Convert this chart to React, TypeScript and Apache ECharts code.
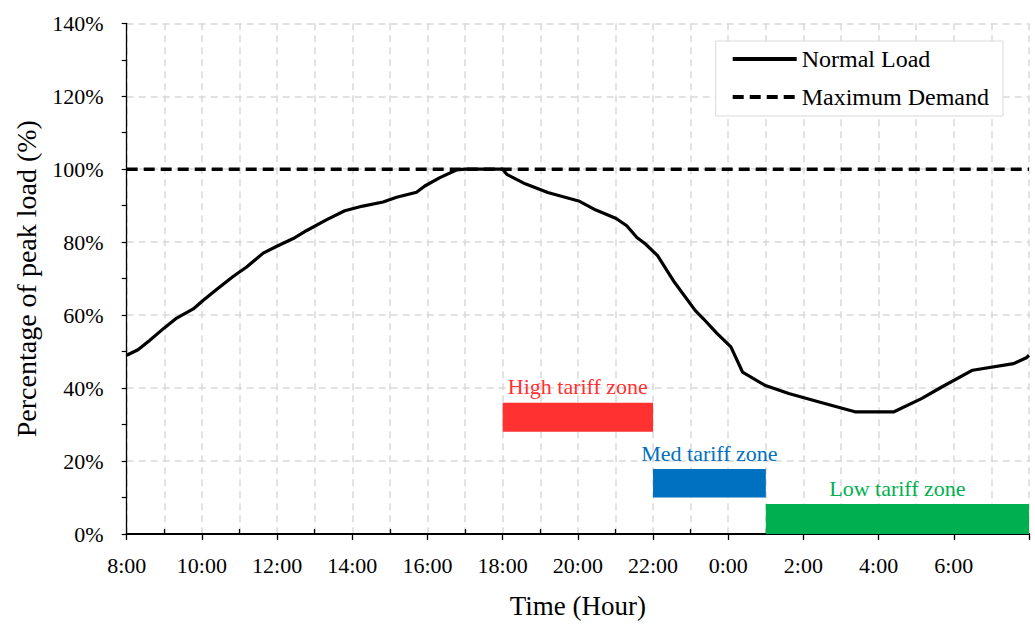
import React, { useEffect, useRef } from "react";
import * as echarts from "echarts";

// Hours elapsed since 8:00 (x axis runs 8:00 -> 8:00 next day)
const hoursFrom8 = [0, 0.3, 0.6, 1.0, 1.33, 1.77, 2.03, 2.39, 2.83, 3.19, 3.63, 3.98, 4.43, 4.79, 5.31, 5.8, 6.28, 6.82, 7.18, 7.71, 7.93, 8.33, 8.77, 9.0, 10.0, 10.11, 10.6, 11.2, 12.02, 12.48, 13.02, 13.3, 13.57, 13.8, 14.12, 14.57, 15.12, 15.34, 15.7, 16.07, 16.38, 16.97, 17.61, 18.42, 19.37, 20.41, 21.14, 21.68, 22.5, 23.59, 23.93, 24];
const normalLoad = [49, 50.5, 53, 56.5, 59.2, 61.7, 64, 67, 70.6, 73.2, 77, 78.8, 81, 83.2, 86.1, 88.6, 89.9, 91, 92.3, 93.7, 95.4, 97.7, 99.8, 100, 100, 98.6, 96, 93.6, 91.3, 88.8, 86.5, 84.5, 81.3, 79.5, 76.3, 69, 61.3, 59, 55, 51.3, 44.4, 40.8, 38.5, 36.2, 33.5, 33.5, 37.1, 40.3, 44.9, 46.7, 48.3, 49];

const maxDemandHours = [0, 24];
const maxDemand = [100, 100];

const zoneNames = ["High tariff zone", "Med tariff zone", "Low tariff zone"];
const zoneStart = [10, 14, 17];
const zoneEnd = [14, 17, 24];
const zoneLow = [28, 10, 0];
const zoneHigh = [36, 17.8, 8.2];
const zoneColors = ["#FF3131", "#0070C0", "#00B050"];

const startHour = 8;
const FONT = "'Liberation Serif', 'Times New Roman', serif";

export default function App() {
  const ref = useRef<HTMLDivElement>(null);

  useEffect(() => {
    if (!ref.current) return;
    const chart = echarts.init(ref.current, undefined, { renderer: "svg" });

    const loadData = hoursFrom8.map((h, i) => [h, normalLoad[i]]);
    const mdData = maxDemandHours.map((h, i) => [h, maxDemand[i]]);
    const zoneData = zoneNames.map((n, i) => [zoneStart[i], zoneEnd[i], zoneLow[i], zoneHigh[i], i]);

    const grid = "#D9D9D9";

    chart.setOption({
      animation: false,
      backgroundColor: "#ffffff",
      textStyle: { fontFamily: FONT },
      grid: { left: 126.7, right: 6, top: 23.3, bottom: 88, containLabel: false },
      legend: {
        data: ["Normal Load", "Maximum Demand"],
        orient: "vertical",
        right: 32,
        top: 41,
        padding: [6, 14, 7, 15],
        itemGap: 14,
        itemWidth: 64,
        itemHeight: 24,
        backgroundColor: "#ffffff",
        borderColor: "#D9D9D9",
        borderWidth: 1,
        itemStyle: { opacity: 0, color: "transparent", borderWidth: 0 },
        lineStyle: { width: 4 },
        textStyle: { fontFamily: FONT, fontSize: 24, color: "#000" },
      },
      xAxis: [
        {
          type: "value",
          min: 0,
          max: 24,
          interval: 2,
          name: "Time (Hour)",
          nameLocation: "middle",
          nameGap: 58,
          nameTextStyle: { fontFamily: FONT, fontSize: 27, color: "#000" },
          axisLine: { show: true, onZero: false, lineStyle: { color: "#000", width: 2.2 } },
          axisTick: { show: true, length: 6, lineStyle: { color: "#000", width: 1.3 } },
          axisLabel: {
            margin: 20,
            fontFamily: FONT,
            fontSize: 22,
            color: "#000",
            formatter: (v: number) => (v >= 24 ? "" : ((startHour + v) % 24) + ":00"),
          },
          splitLine: { show: true, lineStyle: { color: grid, width: 1.5, type: [7, 5] } },
          minorTick: { show: false, splitNumber: 2 },
          minorSplitLine: { show: true, lineStyle: { color: grid, width: 1.5, type: [7, 5] } },
        },
        {
          type: "value",
          min: 0,
          max: 24,
          interval: 2,
          position: "bottom",
          axisLine: { show: false },
          axisTick: { show: false, inside: true },
          axisLabel: { show: false },
          splitLine: { show: false },
          minorTick: { show: true, splitNumber: 2, length: 5, lineStyle: { color: "#000", width: 1.3 } },
        },
      ],
      yAxis: {
        type: "value",
        min: 0,
        max: 140,
        interval: 20,
        name: "Percentage of peak load (%)",
        nameLocation: "middle",
        nameGap: 86,
        nameTextStyle: { fontFamily: FONT, fontSize: 28, color: "#000" },
        axisLine: { show: true, lineStyle: { color: "#000", width: 1.3 } },
        axisTick: { show: true, length: 5, lineStyle: { color: "#000", width: 1.2 } },
        minorTick: { show: true, splitNumber: 2, length: 5, lineStyle: { color: "#000", width: 1.2 } },
        axisLabel: { margin: 23, fontFamily: FONT, fontSize: 22, color: "#000", formatter: "{value}%" },
        splitLine: { show: true, lineStyle: { color: grid, width: 1.5, type: [7, 5] } },
      },
      series: [
        {
          name: "Tariff zones",
          type: "custom",
          xAxisIndex: 0,
          yAxisIndex: 0,
          encode: { x: [0, 1], y: [2, 3] },
          data: zoneData,
          z: 3,
          renderItem: (params: any, api: any) => {
            const idx = api.value(4);
            const p0 = api.coord([api.value(0), api.value(3)]);
            const p1 = api.coord([api.value(1), api.value(2)]);
            const color = zoneColors[idx];
            return {
              type: "group",
              children: [
                {
                  type: "rect",
                  shape: { x: p0[0], y: p0[1], width: p1[0] - p0[0], height: p1[1] - p0[1] },
                  style: { fill: color },
                },
                {
                  type: "text",
                  style: {
                    text: zoneNames[idx],
                    x: (p0[0] + p1[0]) / 2,
                    y: p0[1] - 5,
                    align: "center",
                    verticalAlign: "bottom",
                    fill: color,
                    font: "22px " + FONT,
                  },
                },
              ],
            };
          },
        },
        {
          name: "Maximum Demand",
          type: "line",
          data: mdData,
          showSymbol: false,
          symbol: "none",
          z: 4,
          lineStyle: { color: "#000", width: 3.5, type: [11, 6] },
          itemStyle: { color: "#000" },
        },
        {
          name: "Normal Load",
          type: "line",
          data: loadData,
          showSymbol: false,
          symbol: "none",
          z: 5,
          lineStyle: { color: "#000", width: 3.2 },
          itemStyle: { color: "#000" },
        },
      ],
    });

    return () => chart.dispose();
  }, []);

  return (
    <div
      ref={ref}
      style={{ position: "fixed", left: 0, top: 0, width: 1035, height: 624 }}
    />
  );
}
